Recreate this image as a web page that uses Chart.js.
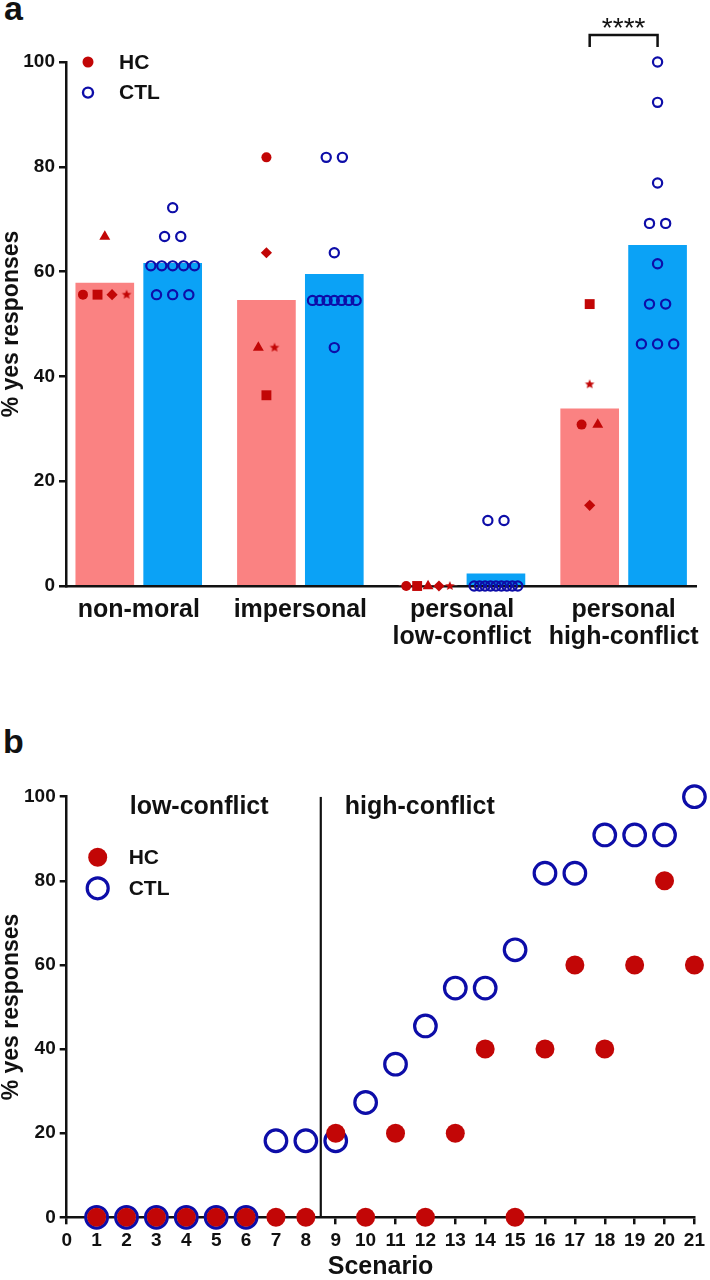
<!DOCTYPE html>
<html>
<head>
<meta charset="utf-8">
<script src="https://cdn.jsdelivr.net/npm/chart.js@4.4.1/dist/chart.umd.min.js"></script>
<style>
  body { margin: 0; width: 710px; height: 1280px; background: #fff; position: relative; overflow: hidden; }
  .letter { position: absolute; font: bold 34px "Liberation Sans", Arial, sans-serif; line-height: 34px; color: #111; }
  .wrap { position: absolute; left: 0; width: 710px; }
</style>
</head>
<body>
<div class="letter" style="left:4px; top:-9px">a</div>
<div class="wrap" style="top:0; height:665px"><canvas id="chartA"></canvas></div>
<div class="letter" style="left:3px; top:724px">b</div>
<div class="wrap" style="top:690px; height:590px"><canvas id="chartB"></canvas></div>

<script>
// ---- panel a : mean % yes per category, one point per subject
const categories = [["non-moral"], ["impersonal"], ["personal", "low-conflict"], ["personal", "high-conflict"]];
const hcMeans = [57.8, 54.5, 0, 33.8];
const ctlMeans = [61.6, 59.5, 2.3, 65.0];

// HC subjects, always in this order (one symbol each)
const hcShapes = ["circle", "rect", "triangle", "rectRot", "star"];
const hcNonMoral = [55.6, 55.6, 66.7, 55.6, 55.6];
const hcImpersonal = [81.8, 36.4, 45.5, 63.6, 45.5];
const hcLowConflict = [0, 0, 0, 0, 0];
const hcHighConflict = [30.8, 53.8, 30.8, 15.4, 38.5];

const ctlNonMoral = [72.2, 66.7, 66.7, 61.1, 61.1, 61.1, 61.1, 61.1, 55.6, 55.6, 55.6];
const ctlImpersonal = [81.8, 81.8, 63.6, 54.5, 54.5, 54.5, 54.5, 54.5, 54.5, 54.5, 45.5];
const ctlLowConflict = [12.5, 12.5, 0, 0, 0, 0, 0, 0, 0, 0, 0];
const ctlHighConflict = [100, 92.3, 76.9, 69.2, 69.2, 61.5, 53.8, 53.8, 46.2, 46.2, 46.2];

const yTicks = [0, 20, 40, 60, 80, 100];

// ---- panel b : % yes per scenario
const scenarios = [1, 2, 3, 4, 5, 6, 7, 8, 9, 10, 11, 12, 13, 14, 15, 16, 17, 18, 19, 20, 21];
const hcScenario = [0, 0, 0, 0, 0, 0, 0, 0, 20, 0, 20, 0, 20, 40, 0, 40, 60, 40, 60, 80, 60];
const ctlScenario = [0, 0, 0, 0, 0, 0, 18.2, 18.2, 18.2, 27.3, 36.4, 45.5, 54.5, 54.5, 63.6, 81.8, 81.8, 90.9, 90.9, 90.9, 100];
const lowConflictCount = 8;

const RED = "#c20606";
const BLUE = "#0d0da8";
const FONT = "'Liberation Sans', Arial, sans-serif";
const INK = "#111";

const hcScores = [hcNonMoral, hcImpersonal, hcLowConflict, hcHighConflict];
const ctlScores = [ctlNonMoral, ctlImpersonal, ctlLowConflict, ctlHighConflict];
const shift = 0.21; // bar centre offset from category centre

// star symbol as a small picture (chart.js 'star' is an asterisk)
function starImage(r, color) {
  const c = document.createElement("canvas");
  c.width = c.height = r * 2 + 2;
  const g = c.getContext("2d");
  g.fillStyle = color;
  g.beginPath();
  for (let k = 0; k < 10; k++) {
    const rr = k % 2 ? r * 0.45 : r;
    const ang = -Math.PI / 2 + (k * Math.PI) / 5;
    g.lineTo(c.width / 2 + rr * Math.cos(ang), c.height / 2 + rr * Math.sin(ang));
  }
  g.closePath();
  g.fill();
  return c;
}
const star = starImage(5, RED);
const shapeSize = { circle: 5, rect: 7, triangle: 6.3, rectRot: 5.6, star: 5 };

// equal values sit side by side around the bar centre
function swarm(values, centre) {
  const out = [];
  const groups = {};
  values.forEach((v, i) => { (groups[v] = groups[v] || []).push(i); });
  Object.values(groups).forEach(idx => {
    const n = idx.length;
    const step = n > 1 ? Math.min(0.1, 0.27 / (n - 1)) : 0;
    idx.forEach((k, j) => { out[k] = { x: centre + (j - (n - 1) / 2) * step, y: values[k] }; });
  });
  return out;
}

let hcPoints = [], hcStyles = [], hcRadius = [], ctlPoints = [];
categories.forEach((c, i) => {
  hcPoints = hcPoints.concat(swarm(hcScores[i], i + 1 - shift));
  hcShapes.forEach(s => {
    hcStyles.push(s === "star" ? star : s);
    hcRadius.push(shapeSize[s]);
  });
  ctlPoints = ctlPoints.concat(swarm(ctlScores[i], i + 1 + shift));
});

const panelANotes = {
  id: "panelANotes",
  afterDraw(chart) {
    const { ctx, chartArea: a, scales: { x, y } } = chart;
    ctx.save();
    // legend
    ctx.fillStyle = RED;
    ctx.beginPath(); ctx.arc(a.left + 22, a.top, 5.5, 0, Math.PI * 2); ctx.fill();
    ctx.strokeStyle = BLUE; ctx.lineWidth = 2.4;
    ctx.beginPath(); ctx.arc(a.left + 22, a.top + 30.6, 5, 0, Math.PI * 2); ctx.stroke();
    ctx.fillStyle = INK;
    ctx.font = "bold 21px " + FONT;
    ctx.textBaseline = "middle";
    ctx.fillText("HC", a.left + 53, a.top + 1);
    ctx.fillText("CTL", a.left + 53, a.top + 31.6);
    // significance bracket on the last category
    const x1 = x.getPixelForValue(categories.length - shift);
    const x2 = x.getPixelForValue(categories.length + shift);
    const top = y.getPixelForValue(100) - 27;
    ctx.strokeStyle = INK; ctx.lineWidth = 2.5;
    ctx.beginPath();
    ctx.moveTo(x1, top + 12); ctx.lineTo(x1, top); ctx.lineTo(x2, top); ctx.lineTo(x2, top + 12);
    ctx.stroke();
    ctx.font = "28px " + FONT;
    ctx.textAlign = "center";
    ctx.textBaseline = "alphabetic";
    ctx.fillText("****", (x1 + x2) / 2, top + 2);
    ctx.restore();
  }
};

const yAxis = (width) => ({
  min: 0, max: 100,
  afterBuildTicks: s => { s.ticks = yTicks.map(v => ({ value: v })); },
  afterFit: s => { s.width = width; },
  border: { display: true, color: INK, width: 2.5 },
  grid: { drawOnChartArea: false, drawTicks: true, tickLength: 7, color: INK, lineWidth: 2.5 },
  ticks: { color: INK, padding: 4, font: { family: FONT, size: 19, weight: "bold" } },
  title: { display: true, text: "% yes responses", color: INK, padding: { top: 0, bottom: 0 },
           font: { family: FONT, size: 23, weight: "bold", lineHeight: 1 } }
});

new Chart(document.getElementById("chartA"), {
  type: "scatter",
  data: {
    datasets: [
      {
        label: "HC", data: hcPoints, order: 0, clip: false,
        pointStyle: hcStyles, pointRadius: hcRadius, pointBackgroundColor: RED, pointBorderWidth: 0
      },
      {
        label: "CTL", data: ctlPoints, order: 1, clip: false,
        pointStyle: "circle", pointRadius: 4.6, pointBackgroundColor: "rgba(0,0,0,0)",
        pointBorderColor: BLUE, pointBorderWidth: 2.2
      },
      {
        type: "bar", label: "HC mean", order: 2, grouped: false, barThickness: 58,
        data: hcMeans.map((v, i) => ({ x: i + 1 - shift, y: v })),
        backgroundColor: "#fa8282", borderWidth: 0
      },
      {
        type: "bar", label: "CTL mean", order: 3, grouped: false, barThickness: 58,
        data: ctlMeans.map((v, i) => ({ x: i + 1 + shift, y: v })),
        backgroundColor: "#0ba2f6", borderWidth: 0
      }
    ]
  },
  options: {
    responsive: true, maintainAspectRatio: false, animation: false, events: [],
    layout: { padding: { top: 62, right: 12, left: 0, bottom: 0 } },
    plugins: { legend: { display: false }, tooltip: { enabled: false } },
    scales: {
      x: {
        type: "linear", min: 0.55, max: categories.length + 0.45, offset: false,
        afterBuildTicks: s => { s.ticks = categories.map((c, i) => ({ value: i + 1 })); },
        afterFit: s => { s.height = 79; },
        border: { display: true, color: INK, width: 2.5 },
        grid: { display: false, drawTicks: false },
        ticks: {
          color: INK, padding: 10, autoSkip: false, maxRotation: 0,
          font: { family: FONT, size: 25, weight: "bold", lineHeight: 1.1 },
          callback: v => categories[v - 1]
        }
      },
      y: yAxis(66)
    }
  },
  plugins: [panelANotes]
});

const panelBNotes = {
  id: "panelBNotes",
  afterDraw(chart) {
    const { ctx, chartArea: a, scales: { x } } = chart;
    const divide = x.getPixelForValue(lowConflictCount + 0.5);
    ctx.save();
    ctx.fillStyle = INK;
    ctx.font = "bold 25px " + FONT;
    ctx.fillText("low-conflict", a.left + 63, a.top + 17);
    ctx.fillText("high-conflict", divide + 24, a.top + 17);
    // legend
    ctx.fillStyle = RED;
    ctx.beginPath(); ctx.arc(a.left + 31, a.top + 60.6, 9.5, 0, Math.PI * 2); ctx.fill();
    ctx.strokeStyle = BLUE; ctx.lineWidth = 3.2;
    ctx.beginPath(); ctx.arc(a.left + 31, a.top + 91.6, 10.5, 0, Math.PI * 2); ctx.stroke();
    ctx.fillStyle = INK;
    ctx.font = "bold 21px " + FONT;
    ctx.textBaseline = "middle";
    ctx.fillText("HC", a.left + 62, a.top + 62);
    ctx.fillText("CTL", a.left + 62, a.top + 93);
    ctx.restore();
  }
};

new Chart(document.getElementById("chartB"), {
  type: "scatter",
  data: {
    datasets: [
      {
        label: "HC", order: 0, clip: false,
        data: scenarios.map((s, i) => ({ x: s, y: hcScenario[i] })),
        pointRadius: 9.5, pointBackgroundColor: RED, pointBorderWidth: 0
      },
      {
        label: "CTL", order: 1, clip: false,
        data: scenarios.map((s, i) => ({ x: s, y: ctlScenario[i] })),
        pointRadius: 10.8, pointBackgroundColor: "#fff", pointBorderColor: BLUE, pointBorderWidth: 3.2
      },
      {
        type: "line", label: "divide", order: 2, showLine: true, pointRadius: 0,
        data: [{ x: lowConflictCount + 0.5, y: 0 }, { x: lowConflictCount + 0.5, y: 100 }],
        borderColor: INK, borderWidth: 2.2
      }
    ]
  },
  options: {
    responsive: true, maintainAspectRatio: false, animation: false, events: [],
    layout: { padding: { top: 106.7, right: 12.3, left: 0, bottom: 0 } },
    plugins: { legend: { display: false }, tooltip: { enabled: false } },
    scales: {
      x: {
        type: "linear", min: 0, max: scenarios.length, offset: false,
        afterBuildTicks: s => { s.ticks = [0].concat(scenarios).map(v => ({ value: v })); },
        afterFit: s => { s.height = 62.7; },
        border: { display: true, color: INK, width: 2.5 },
        grid: { drawOnChartArea: false, drawTicks: true, tickLength: 7, color: INK, lineWidth: 2.5 },
        ticks: { color: INK, padding: 5, autoSkip: false, maxRotation: 0,
                 font: { family: FONT, size: 19, weight: "bold" } },
        title: { display: true, text: "Scenario", color: INK, padding: { top: 0, bottom: 0 },
                 font: { family: FONT, size: 25, weight: "bold", lineHeight: 1 } }
      },
      y: yAxis(66.7)
    }
  },
  plugins: [panelBNotes]
});
</script>
</body>
</html>
